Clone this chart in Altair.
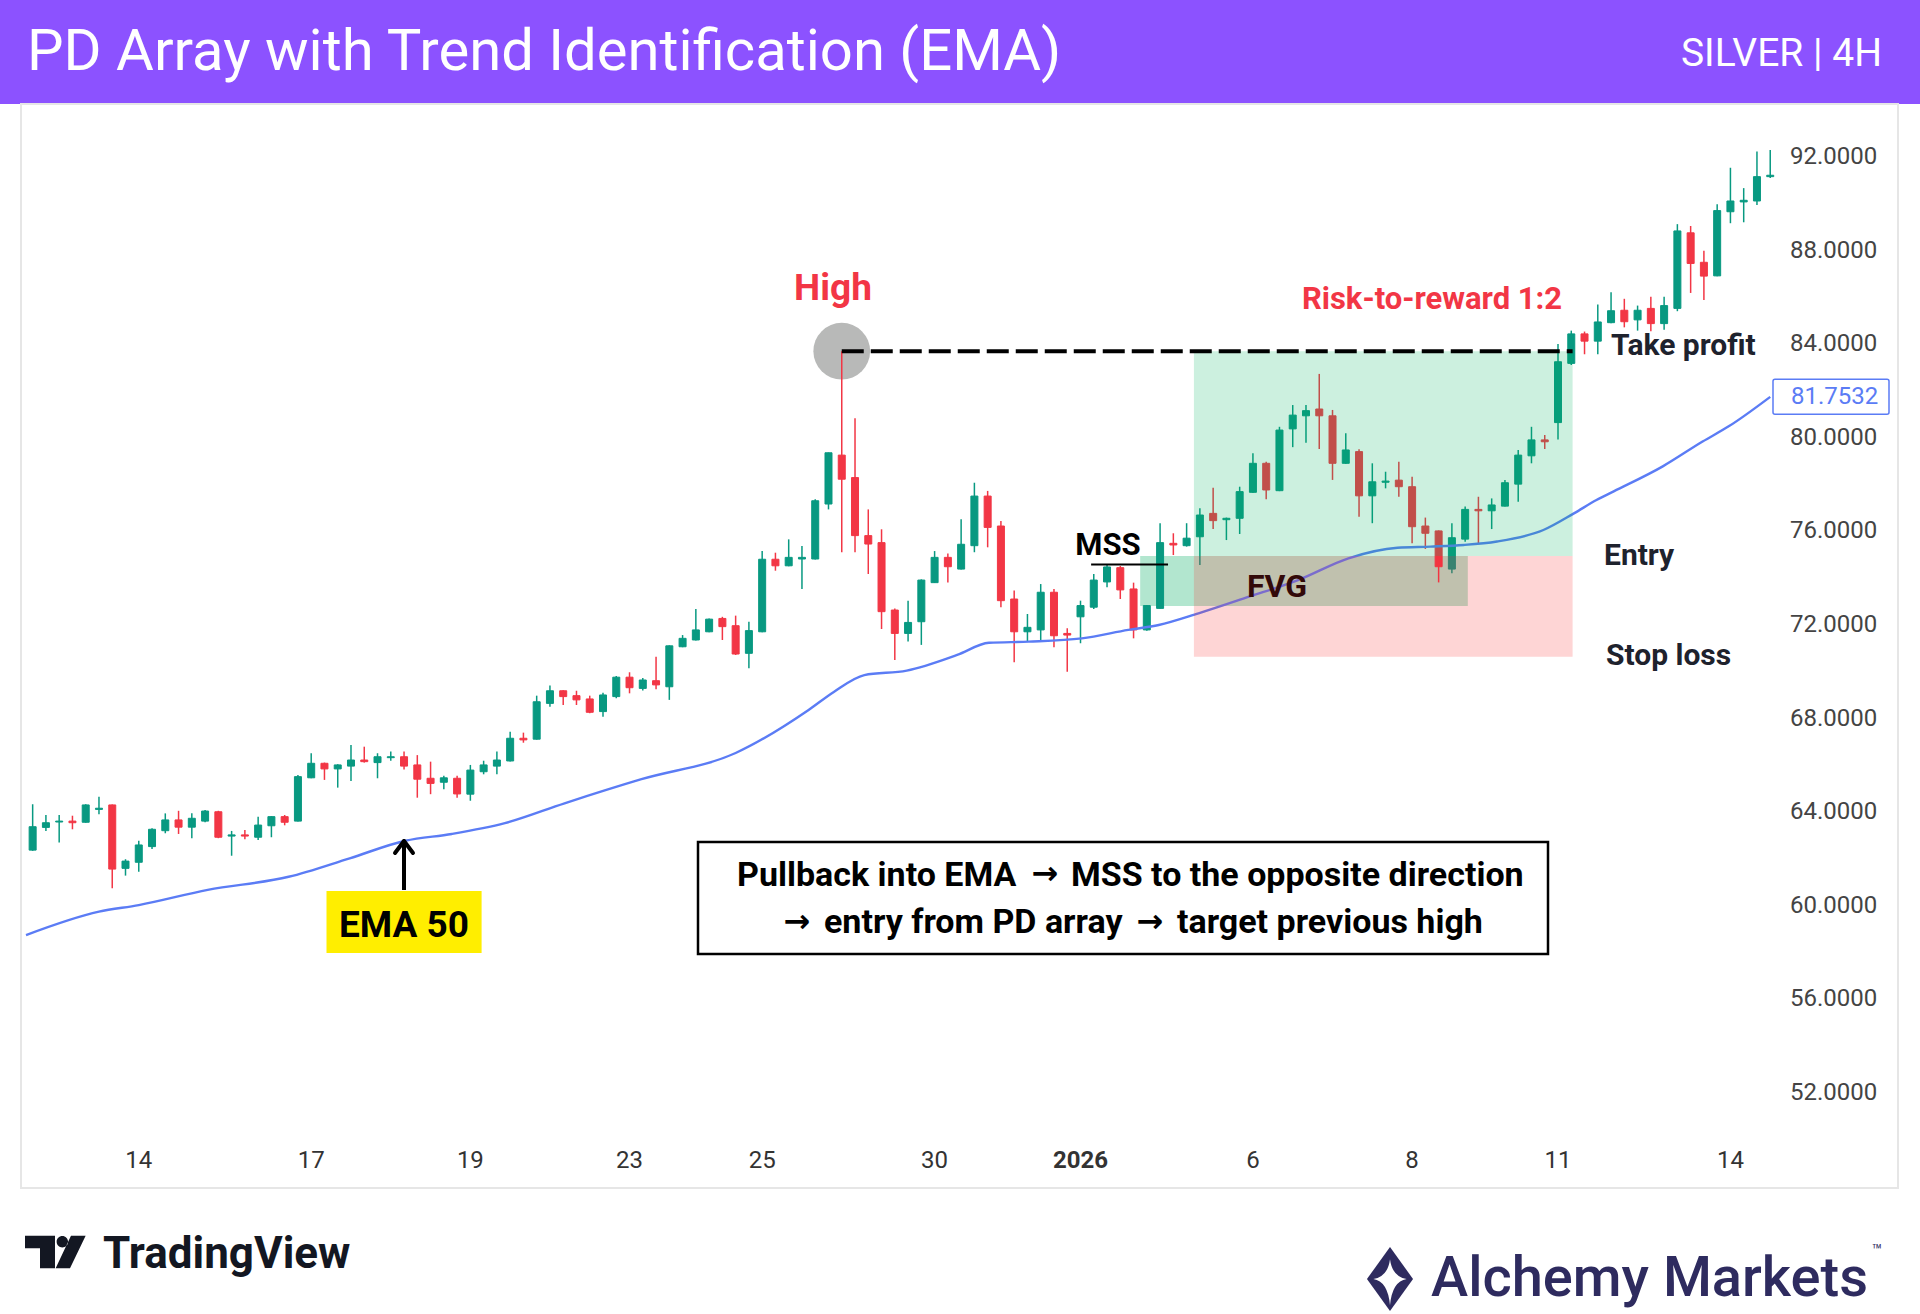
import altair as alt
import pandas as pd

# ---------------- data ----------------
opens = [62.38, 63.35, 63.58, 63.62, 63.57, 64.12, 64.31, 61.60, 61.86, 62.53,
         63.21, 63.67, 63.36, 63.62, 64.02, 62.98, 63.03, 62.93, 63.42, 63.81,
         63.62, 65.47, 66.09, 65.85, 65.97, 66.23, 66.12, 66.33, 66.37, 66.02,
         65.45, 65.28, 65.45, 64.77, 65.73, 65.97, 66.19, 67.16, 67.12, 68.65,
         69.19, 68.98, 68.84, 68.30, 68.94, 69.77, 69.29, 69.62, 69.36, 71.07,
         71.36, 71.71, 72.28, 71.97, 70.79, 71.71, 74.81, 74.53, 74.82, 74.82,
         77.17, 79.26, 78.30, 75.82, 75.52, 72.64, 71.64, 72.14, 73.81, 74.89,
         74.39, 75.39, 77.51, 76.23, 73.11, 71.71, 71.79, 73.40, 71.64, 72.35,
         72.76, 73.84, 74.45, 73.54, 71.79, 72.71, 75.49, 75.39, 75.77, 76.77,
         76.50, 76.56, 77.67, 78.91, 77.74, 80.38, 80.94, 81.23, 80.94, 78.91,
         79.41, 77.52, 78.10, 78.19, 77.91, 76.23, 76.02, 74.39, 75.67, 76.94,
         76.88, 77.08, 78.02, 79.23, 79.91, 80.65, 83.18, 84.44, 84.13, 84.92,
         85.45, 85.04, 85.53, 84.88, 85.53, 88.76, 87.50, 86.92, 89.66, 90.08,
         90.12, 91.16]
highs = [64.34, 63.88, 63.88, 63.85, 64.34, 64.66, 64.33, 61.99, 62.78, 63.31,
         63.95, 64.06, 63.95, 64.09, 64.06, 63.20, 63.24, 63.81, 63.83, 63.88,
         65.59, 66.52, 66.12, 66.05, 66.87, 66.80, 66.52, 66.59, 66.59, 66.44,
         66.16, 65.56, 65.56, 66.02, 66.20, 66.59, 67.44, 67.40, 68.98, 69.41,
         69.21, 69.19, 68.98, 69.11, 69.82, 69.98, 69.73, 70.64, 71.13, 71.57,
         72.68, 72.28, 72.35, 72.40, 72.14, 75.16, 75.09, 75.66, 75.38, 77.37,
         79.37, 83.70, 80.83, 76.94, 76.09, 72.71, 73.04, 73.95, 75.16, 75.06,
         76.52, 78.08, 77.73, 76.44, 73.47, 72.47, 73.75, 73.54, 71.86, 73.04,
         74.18, 74.56, 74.52, 73.81, 72.85, 76.35, 75.92, 76.35, 76.99, 77.87,
         76.59, 77.91, 79.34, 78.98, 80.47, 81.40, 81.40, 82.73, 81.19, 80.19,
         79.51, 78.91, 78.55, 78.98, 78.34, 76.59, 76.04, 76.35, 77.06, 77.48,
         77.41, 78.20, 79.48, 80.47, 80.12, 84.01, 84.58, 84.54, 85.70, 86.22,
         85.94, 85.65, 86.03, 86.03, 89.13, 89.05, 87.99, 89.98, 91.54, 90.67,
         92.24, 92.30]
lows = [62.35, 63.20, 62.70, 63.27, 63.55, 63.91, 60.75, 61.29, 61.46, 62.43,
        63.10, 63.07, 62.89, 63.57, 62.89, 62.14, 62.84, 62.81, 62.93, 63.44,
        63.60, 65.45, 65.38, 65.05, 65.33, 66.12, 65.45, 66.20, 65.83, 64.62,
        64.77, 64.98, 64.62, 64.49, 65.62, 65.62, 66.17, 66.97, 67.10, 68.51,
        68.58, 68.58, 68.23, 68.08, 68.87, 69.08, 69.20, 69.25, 68.80, 71.05,
        71.34, 71.69, 71.36, 70.72, 70.15, 71.69, 74.32, 74.51, 73.54, 74.80,
        76.94, 75.11, 75.11, 74.18, 71.83, 70.50, 71.29, 71.15, 73.80, 73.82,
        74.37, 75.11, 75.32, 72.76, 70.41, 71.29, 71.29, 71.05, 70.00, 71.22,
        72.68, 73.61, 73.11, 71.43, 71.75, 72.70, 74.99, 75.35, 74.56, 76.10,
        75.63, 75.89, 77.65, 77.37, 77.72, 79.60, 79.79, 79.52, 78.20, 78.89,
        76.63, 76.35, 77.84, 77.48, 75.49, 75.25, 73.82, 74.21, 75.56, 75.49,
        76.10, 77.06, 77.27, 78.91, 79.52, 79.93, 83.11, 83.57, 83.57, 84.90,
        84.72, 84.58, 84.55, 84.62, 85.41, 86.19, 85.89, 86.90, 89.17, 89.21,
        89.95, 91.10]
closes = [63.38, 63.55, 63.62, 63.55, 64.31, 64.17, 61.57, 61.91, 62.60, 63.27,
          63.67, 63.36, 63.74, 64.05, 62.93, 63.03, 62.98, 63.45, 63.81, 63.57,
          65.52, 66.09, 65.85, 66.02, 66.23, 66.16, 66.37, 66.37, 65.97, 65.41,
          65.23, 65.47, 64.78, 65.80, 66.02, 66.23, 67.16, 67.09, 68.72, 69.19,
          68.94, 68.80, 68.27, 69.01, 69.77, 69.32, 69.65, 69.44, 71.11, 71.43,
          71.79, 72.25, 71.93, 70.76, 71.76, 74.81, 74.53, 74.89, 74.89, 77.31,
          79.36, 78.23, 75.82, 75.46, 72.57, 71.64, 72.11, 73.92, 74.89, 74.49,
          75.45, 77.51, 76.17, 73.04, 71.71, 71.90, 73.40, 71.54, 71.57, 72.83,
          73.92, 74.48, 73.50, 71.79, 72.83, 75.52, 75.42, 75.71, 76.70, 76.46,
          76.56, 77.70, 78.91, 77.77, 80.33, 80.97, 81.16, 80.94, 78.91, 79.48,
          77.52, 78.12, 78.15, 77.91, 76.20, 75.92, 74.49, 75.73, 76.94, 76.88,
          77.13, 78.08, 79.26, 79.91, 79.83, 83.25, 84.44, 84.13, 84.95, 85.43,
          84.96, 85.45, 84.88, 85.65, 88.84, 87.45, 86.91, 89.71, 90.12, 90.15,
          91.16, 91.22]

ema_idx = [-0.5, 5, 8, 13.2, 19.3, 23.9, 28.1, 31.6, 35.6, 40.1, 45.9, 53.0,
           58.5, 60.4, 62.7, 65.9, 69.7, 72.1, 75.1, 79.1, 82.6, 84.9, 87.9,
           91.7, 95.4, 99.2, 102.9, 105.4, 107.9, 110.4, 113.9, 116.2, 117.9,
           119.2, 122.9, 125.9, 127.9, 131]
ema_val = [58.75, 59.75, 60.03, 60.68, 61.24, 62.03, 62.78, 63.07, 63.53, 64.38,
           65.41, 66.53, 68.37, 69.14, 69.86, 70.05, 70.72, 71.24, 71.29, 71.43,
           71.79, 72.00, 72.50, 73.21, 73.92, 74.85, 75.30, 75.35, 75.42, 75.57,
           76.06, 76.77, 77.34, 77.71, 78.78, 79.84, 80.50, 81.75]
ema_last = 81.7532

tick_idx = [8, 21, 33, 45, 55, 68, 79, 92, 104, 115, 128]
tick_lbl = ["14", "17", "19", "23", "25", "30", "2026", "6", "8", "11", "14"]
tick_bold = [False, False, False, False, False, False, True, False, False, False, False]
price_ticks = [52, 56, 60, 64, 68, 72, 76, 80, 84, 88, 92]

high_idx = 61
high_price = 83.70
target_end_idx = 116.1
box_start_idx = 87.55
entry_price = 74.95
stop_price = 70.64
fvg_start_idx, fvg_end_idx = 83.5, 108.2
fvg_low, fvg_high = 72.81, 74.95
mss_start_idx, mss_end_idx = 79.8, 85.6
mss_price = 74.59

# ---------------- chart ----------------
W, H = 1920, 1314
xs = alt.Scale(domain=[-2.085, 141.915], nice=False, zero=False)
ys = alt.Scale(domain=[42.556, 98.709], nice=False, zero=False)
dir_scale = alt.Scale(domain=["up", "down"], range=["#089981", "#F23645"])
FONT = "Roboto"
ARROW_FONT = "DejaVu Sans"

candles = pd.DataFrame({"idx": list(range(len(opens))), "open": opens,
                        "high": highs, "low": lows, "close": closes})
candles["dir"] = ["up" if c >= o else "down" for o, c in zip(opens, closes)]
ema = pd.DataFrame({"idx": ema_idx, "ema": ema_val})
ONE = pd.DataFrame({"a": [0]})


def txt(s, x, y, size, color="#000000", weight="bold", align="left",
        baseline="alphabetic", font=FONT):
    return alt.Chart(ONE).mark_text(text=s, fontSize=size, font=font, fontWeight=weight,
                                    color=color, align=align, baseline=baseline).encode(
        x=alt.value(x), y=alt.value(y))


def prect(x0, x1, y0, y1, **kw):
    return alt.Chart(ONE).mark_rect(**kw).encode(
        x=alt.value(x0), x2=alt.value(x1), y=alt.value(y0), y2=alt.value(y1))


def pline(x0, y0, x1, y1, **kw):
    return alt.Chart(ONE).mark_rule(**kw).encode(
        x=alt.value(x0), x2=alt.value(x1), y=alt.value(y0), y2=alt.value(y1))


def drect(x0, x1, y0, y1, **kw):
    d = pd.DataFrame({"x0": [x0], "x1": [x1], "y0": [y0], "y1": [y1]})
    return alt.Chart(d).mark_rect(**kw).encode(
        x=alt.X("x0:Q", scale=xs, axis=None), x2="x1:Q",
        y=alt.Y("y0:Q", scale=ys, axis=None), y2="y1:Q")


def dline(x0, x1, y, **kw):
    d = pd.DataFrame({"x0": [x0], "x1": [x1], "y": [y]})
    return alt.Chart(d).mark_rule(**kw).encode(
        x=alt.X("x0:Q", scale=xs, axis=None), x2="x1:Q",
        y=alt.Y("y:Q", scale=ys, axis=None))


header = prect(0, W, 0, 104, color="#8C52FF")
frame = prect(21, 1898, 104, 1188, fillOpacity=0, stroke="#E6E6E6", strokeWidth=2)

# axis labels (positioned through the scales)
xt = pd.DataFrame({"idx": tick_idx, "lbl": tick_lbl, "bold": tick_bold})
x_labels_norm = alt.Chart(xt[~xt["bold"]]).mark_text(
    fontSize=24, font=FONT, color="#333333", baseline="middle", align="center").encode(
    x=alt.X("idx:Q", scale=xs, axis=None), y=alt.value(1161), text="lbl:N")
x_labels_bold = alt.Chart(xt[xt["bold"]]).mark_text(
    fontSize=24, font=FONT, fontWeight="bold", color="#333333", baseline="middle",
    align="center").encode(
    x=alt.X("idx:Q", scale=xs, axis=None), y=alt.value(1161), text="lbl:N")
yt = pd.DataFrame({"p": price_ticks, "lbl": ["%.4f" % p for p in price_ticks]})
y_labels = alt.Chart(yt).mark_text(
    fontSize=24, font=FONT, color="#444444", baseline="middle", align="left").encode(
    x=alt.value(1790), y=alt.Y("p:Q", scale=ys, axis=None), text="lbl:N")

fvg = drect(fvg_start_idx, fvg_end_idx, fvg_low, fvg_high, color="#B2E6CF")
circle = alt.Chart(pd.DataFrame({"i": [high_idx], "p": [high_price]})).mark_point(
    filled=True, size=3217, color="#B8B9B8", opacity=1, strokeWidth=0).encode(
    x=alt.X("i:Q", scale=xs, axis=None), y=alt.Y("p:Q", scale=ys, axis=None))

wicks = alt.Chart(candles).mark_rule(strokeWidth=1.5).encode(
    x=alt.X("idx:Q", scale=xs, axis=None),
    y=alt.Y("low:Q", scale=ys, axis=None),
    y2="high:Q",
    color=alt.Color("dir:N", scale=dir_scale, legend=None))
bodies = alt.Chart(candles).mark_bar(size=7, strokeWidth=1).encode(
    x=alt.X("idx:Q", scale=xs, axis=None),
    y=alt.Y("open:Q", scale=ys, axis=None),
    y2="close:Q",
    color=alt.Color("dir:N", scale=dir_scale, legend=None),
    stroke=alt.Stroke("dir:N", scale=dir_scale, legend=None))
ema_line = alt.Chart(ema).mark_line(color="#5B7CF5", strokeWidth=2.4,
                                    interpolate="monotone").encode(
    x=alt.X("idx:Q", scale=xs, axis=None), y=alt.Y("ema:Q", scale=ys, axis=None))

fvg_text = txt("FVG", 1277, 597, 32, align="center")
reward = drect(box_start_idx, target_end_idx, entry_price, high_price,
               color="#00B45F", opacity=0.2)
risk = drect(box_start_idx, target_end_idx, stop_price, entry_price,
             color="#FA2D2D", opacity=0.2)
target_line = dline(high_idx, target_end_idx, high_price, color="#000000",
                    strokeWidth=4, strokeDash=[22, 7])
mss_line = dline(mss_start_idx, mss_end_idx, mss_price, color="#000000", strokeWidth=2)

labels = [
    txt("High", 833, 300, 37, color="#F23645", align="center"),
    txt("MSS", 1108, 555, 31, align="center"),
    txt("Risk-to-reward 1:2", 1432, 309, 31, color="#F23645", align="center"),
    txt("Take profit", 1611, 355, 30, color="#1E222D"),
    txt("Entry", 1604, 565, 30, color="#1E222D"),
    txt("Stop loss", 1606, 665, 30, color="#1E222D"),
]

ema_box = prect(326.5, 481.6, 891, 953, color="#FFEE00")
ema_text = txt("EMA 50", 404, 937, 37, align="center")
arrow = [
    pline(404, 842, 404, 890, color="#000000", strokeWidth=4),
    pline(404, 841, 395, 853, color="#000000", strokeWidth=4, strokeCap="round"),
    pline(404, 841, 413, 853, color="#000000", strokeWidth=4, strokeCap="round"),
]

desc_box = prect(698, 1548, 842, 954, fill="white", stroke="#000000", strokeWidth=2.5)
desc = [
    txt("Pullback into EMA", 737, 886, 34),
    txt("\u2192", 1045, 884, 32, align="center", font=ARROW_FONT),
    txt("MSS to the opposite direction", 1071, 886, 34),
    txt("\u2192", 797, 932, 32, align="center", font=ARROW_FONT),
    txt("entry from PD array", 824, 933, 34),
    txt("\u2192", 1150, 932, 32, align="center", font=ARROW_FONT),
    txt("target previous high", 1177, 933, 34),
]

ema_df = pd.DataFrame({"v": [ema_last], "v0": [ema_last - 0.75], "v1": [ema_last + 0.75],
                       "t": ["%.4f" % ema_last]})
ema_tag_box = alt.Chart(ema_df).mark_rect(fill="white", stroke="#5B7CF5",
                                           strokeWidth=1.5, cornerRadius=2).encode(
    x=alt.value(1773), x2=alt.value(1889),
    y=alt.Y("v0:Q", scale=ys, axis=None), y2="v1:Q")
ema_tag_text = alt.Chart(ema_df).mark_text(fontSize=24, font=FONT, color="#5B7CF5",
                                            align="left", baseline="middle").encode(
    x=alt.value(1791), y=alt.Y("v:Q", scale=ys, axis=None), text="t:N")

title = txt("PD Array with Trend Identification (EMA)", 27, 70, 58, color="white",
            weight="normal")
subtitle = txt("SILVER | 4H", 1882, 66, 39, color="white", weight="normal", align="right")

tv_path = ("M-1.84,-1 L0,-1 L0,1 L-0.92,1 L-0.92,-0.23 L-1.84,-0.23 Z "
           "M0.1,-0.63 A0.35,0.35 0 1 0 0.8,-0.63 A0.35,0.35 0 1 0 0.1,-0.63 Z "
           "M0.98,-1 L1.88,-1 L0.92,1 L0.04,1 Z")
tv_icon = alt.Chart(ONE).mark_point(shape=tv_path, filled=True, size=1063,
                                    color="#131722", opacity=1, strokeWidth=0).encode(
    x=alt.value(55), y=alt.value(1252))
tv_text = txt("TradingView", 103, 1268, 44, color="#131722")

am_diamond = alt.Chart(ONE).mark_point(shape="M0,-1 L0.72,0 L0,1 L-0.72,0 Z", filled=True,
                                       size=4096, color="#2E2B5F", opacity=1,
                                       strokeWidth=0).encode(
    x=alt.value(1390), y=alt.value(1279))
am_star = alt.Chart(ONE).mark_point(
    shape="M0,-0.62 Q0.07,-0.07 0.52,0 Q0.07,0.07 0,0.82 Q-0.07,0.07 -0.52,0 Q-0.07,-0.07 0,-0.62 Z",
    filled=True, size=4096, color="white", opacity=1, strokeWidth=0).encode(
    x=alt.value(1390), y=alt.value(1279))
am_text = txt("Alchemy Markets", 1431, 1296, 56, color="#2E2B5F", weight=500)
am_tm = txt("\u2122", 1877, 1256, 17, color="#2E2B5F", weight="normal", align="center")

chart = alt.layer(
    header, frame, x_labels_norm, x_labels_bold, y_labels, fvg, circle, wicks, bodies,
    ema_line, fvg_text, reward, risk, target_line, mss_line, *labels, ema_box, ema_text,
    *arrow, desc_box, *desc, ema_tag_box, ema_tag_text, title, subtitle, tv_icon, tv_text,
    am_diamond, am_star, am_text, am_tm
).properties(
    width=W, height=H, padding=0, background="white",
    autosize=alt.AutoSizeParams(type="none")
).configure_view(stroke=None)

chart.save("out.html", embed_options={"renderer": "svg", "actions": False})
